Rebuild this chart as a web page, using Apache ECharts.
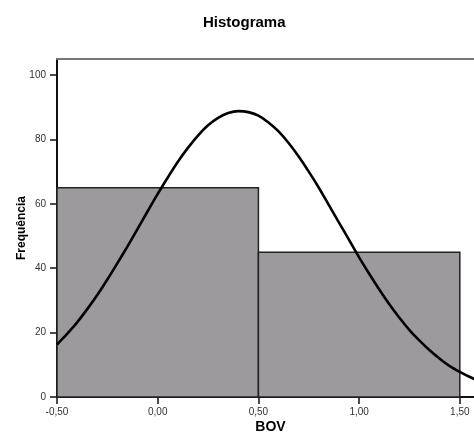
<!DOCTYPE html>
<html>
<head>
<meta charset="utf-8">
<script src="https://cdn.jsdelivr.net/npm/echarts@6/dist/echarts.min.js"></script>
<style>
html,body{margin:0;padding:0;background:#fff;}
#c{width:474px;height:438px;}
</style>
</head>
<body>
<div id="c"></div>
<script>
// Histogram bins
var binStart = [-0.5, 0.5];
var binEnd = [0.5, 1.5];
var counts = [65, 45];

// Normal curve
var curveX = [-0.5,-0.45,-0.4,-0.35,-0.3,-0.25,-0.2,-0.15,-0.1,-0.05,0.0,0.05,0.1,0.15,0.2,0.25,0.3,0.35,0.4,0.45,0.5,0.55,0.6,0.65,0.7,0.75,0.8,0.85,0.9,0.95,1.0,1.05,1.1,1.15,1.2,1.25,1.3,1.35,1.4,1.45,1.5,1.55,1.6,1.65];
var curveY = [16.3,19.6,23.2,27.3,31.7,36.5,41.6,46.8,52.2,57.7,63.1,68.2,73.1,77.4,81.2,84.4,86.7,88.2,88.8,88.5,87.4,85.3,82.5,78.9,74.7,70.0,65.0,59.6,54.2,48.8,43.4,38.3,33.4,28.8,24.6,20.8,17.5,14.5,11.9,9.6,7.8,6.2,4.9,3.8];

// Tick labels
var xTicks = [-0.5, 0, 0.5, 1, 1.5];
var yTicks = [0, 20, 40, 60, 80, 100];

var FONT = '"Liberation Sans", Arial, sans-serif';

var histData = binStart.map(function (s, i) { return [s, binEnd[i], counts[i]]; });
var curveData = curveX.map(function (x, i) { return [x, curveY[i]]; });

var chart = echarts.init(document.getElementById('c'), null, {renderer: 'canvas'});
chart.setOption({
  animation: false,
  backgroundColor: '#ffffff',
  title: {
    text: 'Histograma',
    left: 198, top: 10,
    textStyle: {fontFamily: FONT, fontSize: 15, fontWeight: 'bold', color: '#000'}
  },
  grid: {left: 57, width: 427, top: 59, height: 338, containLabel: false, outerBoundsMode: 'none'},
  xAxis: [{
    type: 'value',
    min: -0.5, max: 1.62,
    name: 'BOV', nameLocation: 'middle', nameGap: 23, nameMoveOverlap: false,
    nameTextStyle: {fontFamily: FONT, fontSize: 14, fontWeight: 'bold', color: '#000'},
    axisLine: {show: true, onZero: false, lineStyle: {color: '#111', width: 2}},
    axisTick: {show: true, length: 7, customValues: xTicks, lineStyle: {color: '#111', width: 1.5}},
    axisLabel: {
      customValues: xTicks, margin: 10,
      fontFamily: FONT, fontSize: 10, color: '#333',
      formatter: function (v) { return v.toFixed(2).replace('.', ','); }
    },
    splitLine: {show: false}
  }, {
    type: 'value', position: 'top',
    min: -0.5, max: 1.62,
    axisLine: {show: true, onZero: false, lineStyle: {color: '#777', width: 2}},
    axisTick: {show: false}, axisLabel: {show: false}, splitLine: {show: false}
  }],
  yAxis: {
    type: 'value',
    min: 0, max: 105,
    name: 'Frequência', nameLocation: 'middle', nameGap: 29, nameMoveOverlap: false,
    nameTextStyle: {fontFamily: FONT, fontSize: 12, fontWeight: 'bold', color: '#000'},
    axisLine: {show: true, onZero: false, lineStyle: {color: '#111', width: 2}},
    axisTick: {show: true, length: 7, customValues: yTicks, lineStyle: {color: '#111', width: 1.5}},
    axisLabel: {customValues: yTicks, margin: 11, fontFamily: FONT, fontSize: 10, color: '#333'},
    splitLine: {show: false}
  },
  series: [{
    type: 'custom',
    data: histData,
    z: 1,
    renderItem: function (params, api) {
      var p0 = api.coord([api.value(0), 0]);
      var p1 = api.coord([api.value(1), api.value(2)]);
      return {
        type: 'rect',
        shape: {x: p0[0], y: p1[1], width: p1[0] - p0[0], height: p0[1] - p1[1]},
        style: {fill: '#9d9a9e', stroke: '#222', lineWidth: 1.5}
      };
    },
    encode: {x: [0, 1], y: 2}
  }, {
    type: 'line',
    data: curveData,
    z: 3,
    smooth: 0.3,
    showSymbol: false,
    symbol: 'none',
    lineStyle: {color: '#000', width: 2.6}
  }]
});
</script>
</body>
</html>
